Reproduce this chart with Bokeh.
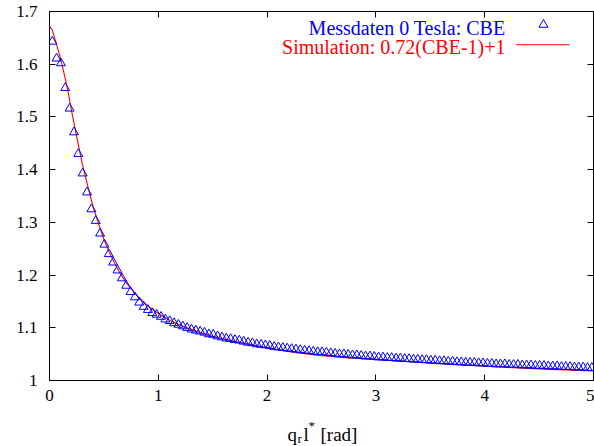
from bokeh.plotting import figure
from bokeh.layouts import column
from bokeh.models import (Range1d, FixedTicker, NumeralTickFormatter, LinearAxis,
                          Label, ColumnDataSource, CustomJSTickFormatter)
from bokeh.embed import file_html
from bokeh.resources import INLINE

# ---- data -------------------------------------------------------------
q_meas = [0.025, 0.065, 0.105, 0.145, 0.185, 0.225, 0.265, 0.305, 0.345, 0.385,
          0.425, 0.465, 0.505, 0.545, 0.585, 0.625, 0.665, 0.705, 0.745, 0.785,
          0.825, 0.865, 0.905, 0.945, 0.985, 1.025, 1.065, 1.105, 1.145, 1.185,
          1.225, 1.265, 1.305, 1.345, 1.385, 1.425, 1.465, 1.505, 1.545, 1.585,
          1.625, 1.665, 1.705, 1.745, 1.785, 1.825, 1.865, 1.905, 1.945, 1.985,
          2.025, 2.065, 2.105, 2.145, 2.185, 2.225, 2.265, 2.305, 2.345, 2.385,
          2.425, 2.465, 2.505, 2.545, 2.585, 2.625, 2.665, 2.705, 2.745, 2.785,
          2.825, 2.865, 2.905, 2.945, 2.985, 3.025, 3.065, 3.105, 3.145, 3.185,
          3.225, 3.265, 3.305, 3.345, 3.385, 3.425, 3.465, 3.505, 3.545, 3.585,
          3.625, 3.665, 3.705, 3.745, 3.785, 3.825, 3.865, 3.905, 3.945, 3.985,
          4.025, 4.065, 4.105, 4.145, 4.185, 4.225, 4.265, 4.305, 4.345, 4.385,
          4.425, 4.465, 4.505, 4.545, 4.585, 4.625, 4.665, 4.705, 4.745, 4.785,
          4.825, 4.865, 4.905, 4.945, 4.985]
cbe_meas = [1.643, 1.611, 1.602, 1.555, 1.516, 1.471, 1.430, 1.393, 1.357, 1.325,
            1.303, 1.279, 1.258, 1.240, 1.224, 1.209, 1.194, 1.180, 1.168, 1.158,
            1.148, 1.140, 1.134, 1.128, 1.125, 1.121, 1.116, 1.113, 1.109, 1.106,
            1.103, 1.100, 1.097, 1.095, 1.093, 1.091, 1.088, 1.087, 1.084, 1.082,
            1.080, 1.079, 1.077, 1.076, 1.074, 1.072, 1.071, 1.069, 1.068, 1.067,
            1.066, 1.064, 1.063, 1.062, 1.061, 1.060, 1.059, 1.058, 1.057, 1.056,
            1.055, 1.054, 1.054, 1.053, 1.052, 1.051, 1.050, 1.050, 1.049, 1.048,
            1.048, 1.047, 1.046, 1.046, 1.045, 1.044, 1.044, 1.043, 1.043, 1.042,
            1.042, 1.041, 1.041, 1.040, 1.040, 1.039, 1.039, 1.038, 1.038, 1.037,
            1.037, 1.036, 1.036, 1.035, 1.035, 1.034, 1.034, 1.034, 1.033, 1.033,
            1.032, 1.032, 1.031, 1.031, 1.031, 1.030, 1.030, 1.030, 1.029, 1.029,
            1.029, 1.028, 1.028, 1.028, 1.027, 1.027, 1.027, 1.026, 1.026, 1.026,
            1.025, 1.025, 1.025, 1.024, 1.024]

q_sim = [0.0, 0.025, 0.05, 0.075, 0.1, 0.125, 0.15, 0.175, 0.2, 0.25, 0.3, 0.35,
         0.4, 0.45, 0.5, 0.55, 0.6, 0.65, 0.7, 0.8, 0.9, 1.0, 1.1, 1.2, 1.3, 1.4,
         1.5, 1.75, 2.0, 2.25, 2.5, 2.75, 3.0, 3.5, 4.0, 4.5, 5.0]
cbe_sim = [1.672, 1.665, 1.648, 1.630, 1.612, 1.590, 1.568, 1.543, 1.515, 1.462,
           1.412, 1.370, 1.330, 1.298, 1.268, 1.243, 1.222, 1.203, 1.187, 1.162,
           1.142, 1.127, 1.115, 1.105, 1.097, 1.090, 1.084, 1.072, 1.062, 1.053,
           1.047, 1.043, 1.040, 1.033, 1.027, 1.022, 1.018]

x_ticks = [0, 1, 2, 3, 4, 5]
y_ticks = [1.0, 1.1, 1.2, 1.3, 1.4, 1.5, 1.6, 1.7]

legend_meas = "Messdaten 0 Tesla: CBE"
legend_sim = "Simulation: 0.72(CBE-1)+1"
# legend key sample positions (data coordinates of the key area)
key_tri_x = [4.54]
key_tri_y = [1.675]
key_line_x = [4.29, 4.78]
key_line_y = [1.637, 1.637]

# x-axis label pieces: q_r l^* [rad]
xlabel_parts = ["q", "r", "l", "*", "[rad]"]

FONT = "Liberation Serif"
BLUE = "#0000ff"
RED = "#ff0000"

FRAME_L, FRAME_R = 49, 593
MAIN_H = 408
p = figure(width=594, height=MAIN_H, output_backend="svg", toolbar_location=None,
           x_range=Range1d(0, 5), y_range=Range1d(1.0, 1.7),
           min_border_left=FRAME_L, min_border_right=594 - FRAME_R,
           min_border_top=11, min_border_bottom=MAIN_H - 380)
p.background_fill_color = "white"
p.border_fill_color = "white"
p.outline_line_color = "black"
p.outline_line_width = 1
p.xgrid.visible = False
p.ygrid.visible = False

def style_axis(ax, show_labels=True):
    ax.axis_line_color = "black"
    ax.major_tick_in = 6
    ax.major_tick_out = 0
    ax.minor_tick_in = 0
    ax.minor_tick_out = 0
    ax.major_tick_line_color = "black"
    ax.major_label_text_font = FONT
    ax.major_label_text_color = "black"
    ax.major_label_text_font_size = "17px"
    if show_labels:
        ax.major_label_standoff = 9
    else:
        ax.formatter = CustomJSTickFormatter(code="return '';")
        ax.major_label_standoff = 0
        ax.axis_line_color = None

p.xaxis.ticker = FixedTicker(ticks=x_ticks)
p.yaxis.ticker = FixedTicker(ticks=y_ticks)
p.yaxis.formatter = NumeralTickFormatter(format="0.[0]")
style_axis(p.xaxis[0])
style_axis(p.yaxis[0])
p.yaxis.major_label_standoff = 12

top_ax = LinearAxis(ticker=FixedTicker(ticks=x_ticks))
right_ax = LinearAxis(ticker=FixedTicker(ticks=y_ticks))
style_axis(top_ax, False)
style_axis(right_ax, False)
p.add_layout(top_ax, "above")
p.add_layout(right_ax, "right")

src_meas = ColumnDataSource(dict(x=q_meas, y=cbe_meas))
src_sim = ColumnDataSource(dict(x=q_sim, y=cbe_sim))

p.line("x", "y", source=src_sim, line_color=RED, line_width=1.1)
p.scatter("x", "y", source=src_meas, marker="triangle", size=9,
          fill_color=None, line_color=BLUE, line_width=1)

# legend (gnuplot style: text right-aligned, key to the right)
p.scatter(key_tri_x, key_tri_y, marker="triangle", size=9, fill_color=None,
          line_color=BLUE, line_width=1)
p.line(key_line_x, key_line_y, line_color=RED, line_width=1.1)

# screen units of Label are relative to the frame's bottom-left corner
FB = 380
def sx(px):
    return px - FRAME_L
def sy(py):
    return FB - py

p.add_layout(Label(x=sx(505), y=sy(27), x_units="screen", y_units="screen",
                   text=legend_meas, text_font=FONT, text_font_size="20px",
                   text_color=BLUE, text_align="right", text_baseline="middle"))
p.add_layout(Label(x=sx(505), y=sy(46), x_units="screen", y_units="screen",
                   text=legend_sim, text_font=FONT, text_font_size="20px",
                   text_color=RED, text_align="right", text_baseline="middle"))

# ---- x-axis label strip below the plot (page-pixel coordinates) --------
LAB_H = 446 - MAIN_H
lab = figure(width=594, height=LAB_H, output_backend="svg", toolbar_location=None,
             x_range=Range1d(FRAME_L, FRAME_R), y_range=Range1d(LAB_H, 0),
             min_border_left=FRAME_L, min_border_right=594 - FRAME_R,
             min_border_top=0, min_border_bottom=0, outline_line_color=None)
lab.axis.visible = False
lab.grid.visible = False
lab.background_fill_color = "white"
lab.border_fill_color = "white"

def ly(py):
    return py - MAIN_H

pos = [(287, 434, "19px"), (297, 438, "13px"), (303, 434, "19px"),
       (308, 425, "13px"), (320, 434, "19px")]
for txt, (xs, ys, fs) in zip(xlabel_parts, pos):
    lab.add_layout(Label(x=xs, y=ly(ys), text=txt, text_font=FONT,
                         text_font_size=fs, text_color="black",
                         text_align="left", text_baseline="alphabetic"))

layout = column(p, lab, spacing=0)
open("out.html", "w").write(file_html(layout, INLINE))
